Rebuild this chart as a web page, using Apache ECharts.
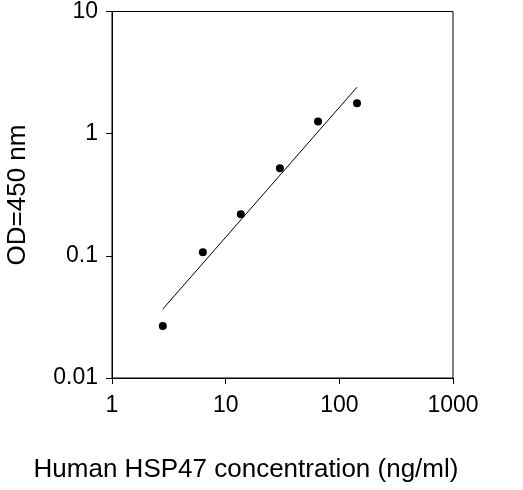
<!DOCTYPE html>
<html><head><meta charset="utf-8">
<script src="https://cdn.jsdelivr.net/npm/echarts@6/dist/echarts.min.js"></script>
<style>html,body{margin:0;padding:0;background:#fff}#c{width:523px;height:490px}</style>
</head><body><div id="c"></div>
<script>
var concentrations = [2.8, 6.3, 13.6, 30, 65, 143];
var odValues = [0.0266, 0.107, 0.219, 0.52, 1.26, 1.77];
var fitX = [2.8, 143];
var fitY = [0.0367, 2.4];
var xTitle = 'Human HSP47 concentration (ng/ml)';
var yTitle = 'OD=450 nm';
var font = 'Liberation Sans, Arial, sans-serif';
var chart = echarts.init(document.getElementById('c'));
chart.setOption({
  animation: false,
  grid: {left: 112, right: 70, top: 11, bottom: 112, show: true, borderColor: '#000', borderWidth: 1},
  graphic: [
    {type: 'text', x: 246, y: 470, style: {text: xTitle, font: '26px ' + font, fill: '#000', align: 'center', verticalAlign: 'middle'}},
    {type: 'text', x: 18, y: 195, rotation: Math.PI / 2, style: {text: yTitle, font: '26px ' + font, fill: '#000', align: 'center', verticalAlign: 'middle'}}
  ],
  xAxis: {type: 'log', logBase: 10, min: 1, max: 1000,
    axisLine: {lineStyle: {color: '#000'}}, axisTick: {length: 6, lineStyle: {color: '#000'}},
    axisLabel: {fontFamily: font, fontSize: 23, color: '#000', margin: 16, formatter: function(v){return String(v);}},
    splitLine: {show: false}, minorTick: {show: false}},
  yAxis: {type: 'log', logBase: 10, min: 0.01, max: 10,
    axisLine: {show: true, lineStyle: {color: '#000'}}, axisTick: {show: true, length: 6, lineStyle: {color: '#000'}},
    axisLabel: {fontFamily: font, fontSize: 23, color: '#000', margin: 14, formatter: function(v){return String(v);}},
    splitLine: {show: false}},
  series: [
    {type: 'line', data: fitX.map(function(x,i){return [x, fitY[i]];}), showSymbol: false, lineStyle: {color: '#000', width: 1}},
    {type: 'scatter', data: concentrations.map(function(x,i){return [x, odValues[i]];}), symbolSize: 8, itemStyle: {color: '#000', opacity: 1}}
  ]
});
</script></body></html>
